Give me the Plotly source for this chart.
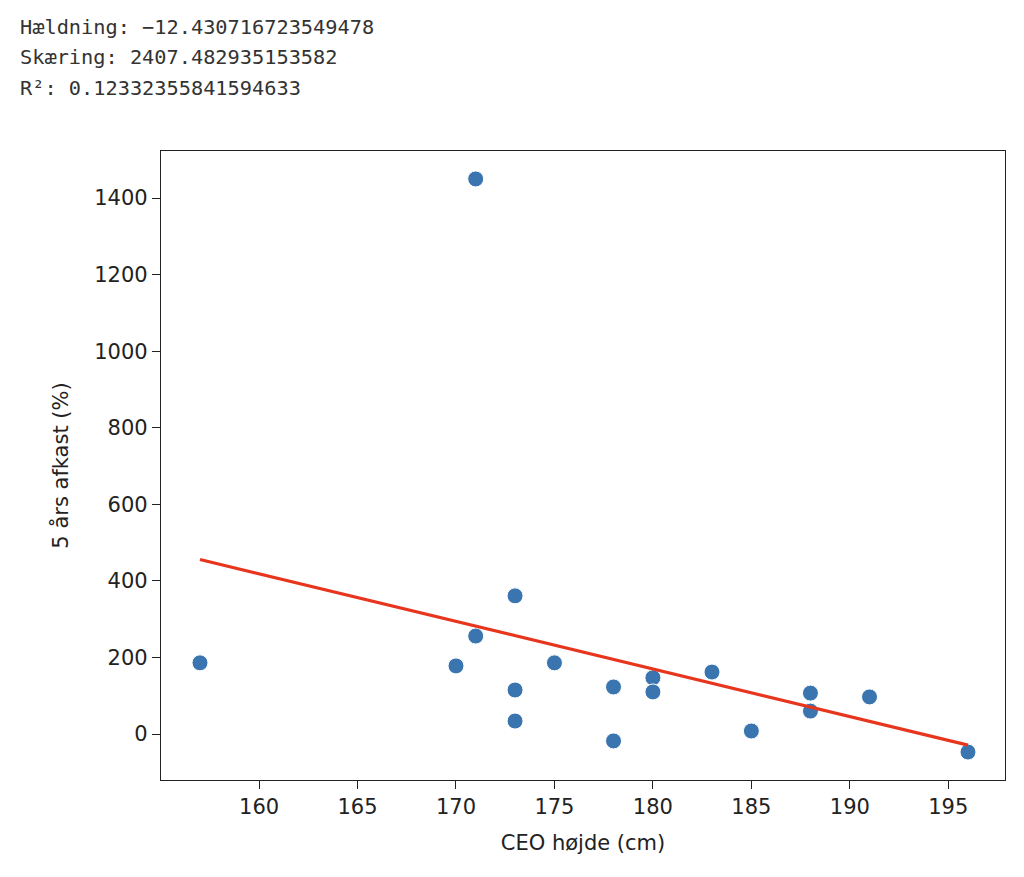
import plotly.graph_objects as go

# CEO height (cm) vs 5-year return (%)
hoejde = [157, 171, 170, 171, 173, 173, 173, 175, 178, 178, 180, 180, 183, 185, 188, 188, 191, 196]
afkast = [186, 1450, 178, 256, 361, 115, 34, 186, 123, -18, 147, 110, 162, 8, 107, 60, 97, -47]

haeldning = -12.430716723549478
skaering = 2407.482935153582
r2 = 0.12332355841594633

# regression line over the observed x range
x_fit = [min(hoejde), max(hoejde)]
y_fit = [skaering + haeldning * x for x in x_fit]

fig = go.Figure()
fig.add_trace(go.Scatter(
    x=hoejde, y=afkast, mode='markers',
    marker=dict(color='#3a75b0', size=16, line=dict(color='white', width=1)),
    showlegend=False,
))
fig.add_trace(go.Scatter(
    x=x_fit, y=y_fit, mode='lines',
    line=dict(color='#e8351e', width=3.2),
    showlegend=False,
))

lines = [
    f'Hældning: −{abs(haeldning)}',
    f'Skæring: {skaering}',
    f'R²: {r2}',
]
for i, t in enumerate(lines):
    fig.add_annotation(
        text=t, xref='paper', yref='paper', x=(10 - 153) / 844, y=1 + (124 - 30.5 * i) / 629,
        xanchor='left', yanchor='middle', showarrow=False,
        font=dict(family='DejaVu Sans Mono', size=20.3, color='#333333'),
    )

axis_style = dict(
    showline=True, linecolor='#222222', linewidth=1.3, mirror=True,
    ticks='outside', ticklen=8, tickwidth=1.3, tickcolor='#222222',
    showgrid=False, zeroline=False,
    tickfont=dict(family='DejaVu Sans', size=21, color='#222222'),
)

fig.update_layout(
    width=1016, height=869,
    margin=dict(l=153, r=19, t=143, b=97),
    plot_bgcolor='white', paper_bgcolor='white',
    font=dict(family='DejaVu Sans', color='#222222'),
)
fig.update_xaxes(
    range=[155.02, 197.88], tickvals=[160, 165, 170, 175, 180, 185, 190, 195],
    title=dict(text='CEO højde (cm)', font=dict(size=21), standoff=16),
    **axis_style,
)
fig.update_yaxes(
    range=[-120, 1523], tickvals=[0, 200, 400, 600, 800, 1000, 1200, 1400],
    title=dict(text='5 års afkast (%)', font=dict(size=21), standoff=19),
    **axis_style,
)

fig.write_html('out.html')
